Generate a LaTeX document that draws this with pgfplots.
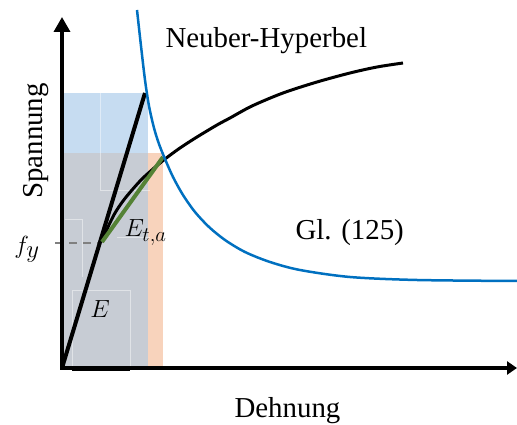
\documentclass[border=0pt]{standalone}
\usepackage{fontspec}
\setmainfont{Liberation Serif}
\usepackage{pgfplots}
\pgfplotsset{compat=1.18}
\usetikzlibrary{arrows.meta}

\definecolor{fillblue}{HTML}{C6DCF1}
\definecolor{fillgray}{HTML}{C7CCD4}
\definecolor{fillorange}{HTML}{F8D3BC}
\definecolor{neuberblue}{HTML}{0070C0}
\definecolor{secantgreen}{HTML}{548235}

\begin{document}
\begin{tikzpicture}
\begin{axis}[
  width=517bp, height=425bp, scale only axis,
  xmin=-62, xmax=455, ymin=-57, ymax=368,
  hide axis, clip=false,
]
\coordinate (bl) at (rel axis cs:0,0);
\coordinate (tr) at (rel axis cs:1,1);

% areas
\addplot[draw=none, fill=fillblue] coordinates {(0,-2) (0,275) (86,275) (86,-2)} -- cycle;
\addplot[draw=none, fill=fillgray] coordinates {(0,-2) (0,215) (86,215) (86,-2)} -- cycle;
\addplot[draw=none, fill=fillorange] coordinates {(86,-2) (86,215) (101,215) (101,-2)} -- cycle;

% faint box edges
\addplot[white, opacity=0.45, line width=0.8bp] coordinates {(38,275) (38,178) (88,178)};
\addplot[white, opacity=0.45, line width=0.8bp] coordinates {(55,131) (88,131)};
\addplot[white, opacity=0.45, line width=0.8bp] coordinates {(3,149) (20,149) (20,91)};
\addplot[white, opacity=0.45, line width=0.8bp] coordinates {(10,0) (10,78) (68,78) (68,0)};

% f_y level
\addplot[gray, line width=2.5bp, dash pattern=on 8bp off 6bp] coordinates {(-7,125) (38,125)};

% elastic line E
\addplot[black, line width=4bp] coordinates {(0,0) (83,275)};

% stress-strain curve
\addplot[black, line width=3bp, smooth] coordinates {
  (40,126) (46,141) (53,155) (61,167) (70,178) (80,189) (91,199) (103,209)
  (118,220) (135,231) (155,243) (168,250) (190,262) (221,275) (255,286)
  (288,295) (315,301) (341,305)
};

% secant E_t,a
\addplot[secantgreen, line width=4bp] coordinates {(40,126) (101,211)};

% Neuber hyperbola
\addplot[neuberblue, line width=2.5bp, smooth] coordinates {
  (75,358) (79,322) (83,288) (87,262) (92,240) (97,224) (103,209) (111,191)
  (121,173) (133,156) (147,141) (163,128) (183,116) (208,106) (238,98)
  (288,91) (355,88) (455,87)
};

% axes
\draw[black, line width=3.5bp, -{Triangle[width=16bp,length=15bp]}] (axis cs:0,-2) -- (axis cs:0,351);
\draw[black, line width=3.5bp, -{Triangle[width=13bp,length=10bp]}] (axis cs:-2,0) -- (axis cs:455,0);
\draw[black, line width=5bp] (axis cs:10,-1) -- (axis cs:68,-1);

% labels
\node[anchor=base west, font=\fontsize{29}{33}\selectfont] at (axis cs:100,320) {Neuber-Hyperbel};
\node[anchor=base west, font=\fontsize{29}{33}\selectfont] at (axis cs:230,128) {Gl. (125)};
\node[anchor=base west, font=\fontsize{29}{33}\selectfont] at (axis cs:169,-50) {Dehnung};
\node[anchor=base, rotate=90, font=\fontsize{29}{33}\selectfont] at (axis cs:-20,227) {Spannung};
\node[font=\fontsize{36}{40}\selectfont] at (axis cs:-35,119) {$f_y$};
\node[font=\fontsize{31}{35}\selectfont] at (axis cs:38,59) {$E$};
\node[anchor=base west, font=\fontsize{30}{34}\selectfont] at (axis cs:59,131) {$E_{t,a}$};
\end{axis}
\pgfresetboundingbox
\path (bl) rectangle (tr);
\end{tikzpicture}
\end{document}
